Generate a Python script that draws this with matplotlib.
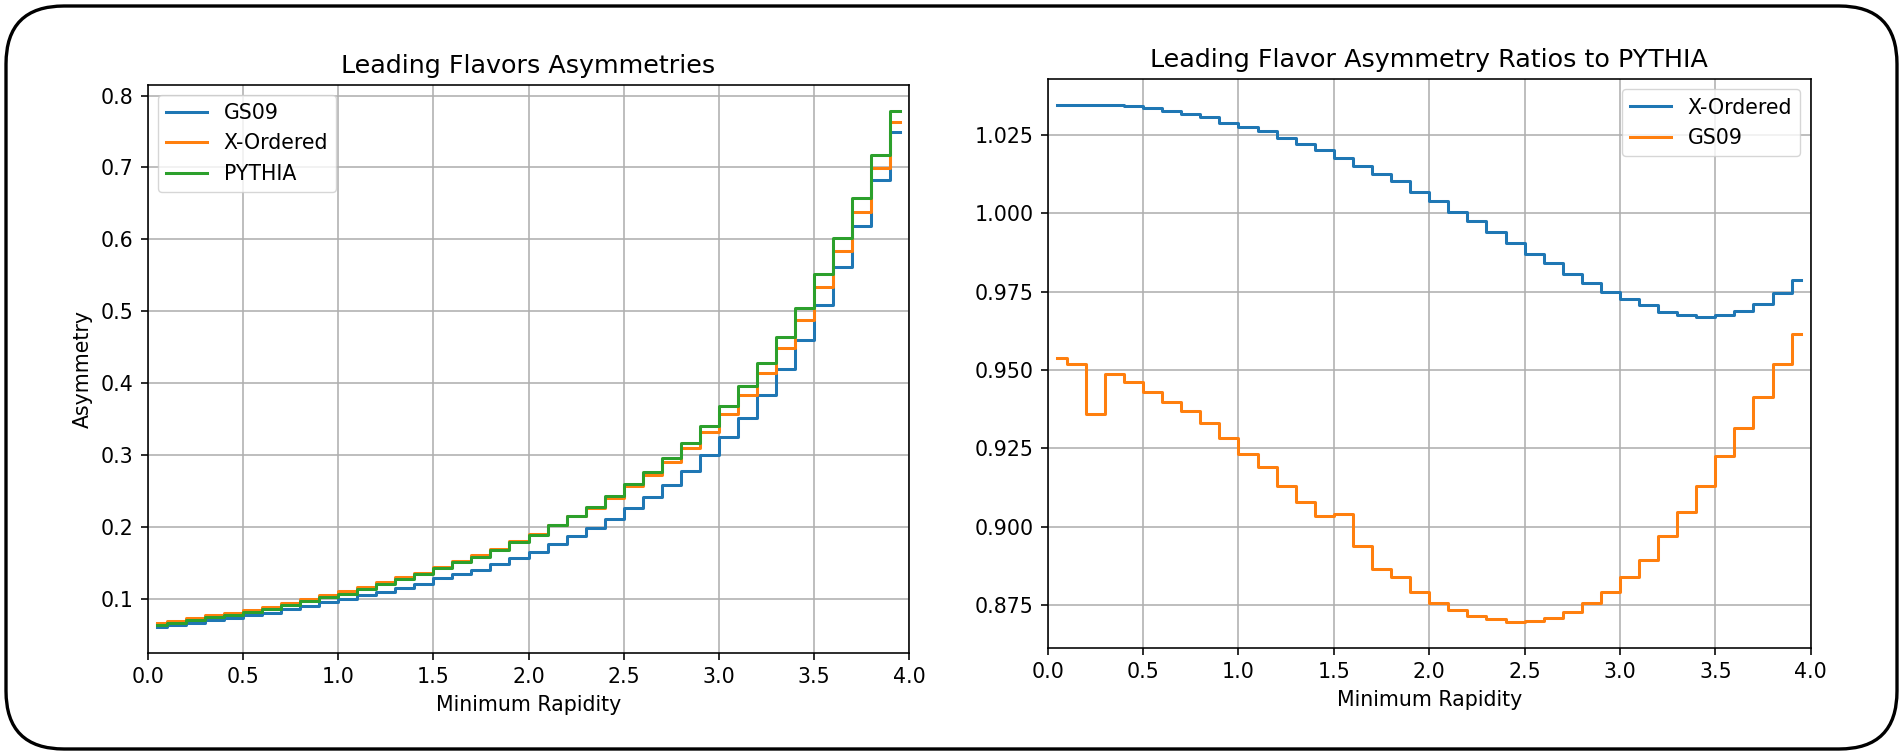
import numpy as np
import matplotlib
matplotlib.use("Agg")
import matplotlib.pyplot as plt
from matplotlib.patches import FancyBboxPatch
from matplotlib.transforms import IdentityTransform

# ---------------- data ----------------
rapidity = [0.05, 0.15, 0.25, 0.35, 0.45, 0.55, 0.65, 0.75, 0.85, 0.95,
            1.05, 1.15, 1.25, 1.35, 1.45, 1.55, 1.65, 1.75, 1.85, 1.95,
            2.05, 2.15, 2.25, 2.35, 2.45, 2.55, 2.65, 2.75, 2.85, 2.95,
            3.05, 3.15, 3.25, 3.35, 3.45, 3.55, 3.65, 3.75, 3.85, 3.95]

asym_gs09 = [0.0611, 0.0636, 0.0663, 0.0707, 0.0740, 0.0773, 0.0808, 0.0853, 0.0901, 0.0951,
             0.0992, 0.1048, 0.1101, 0.1153, 0.1210, 0.1287, 0.1347, 0.1408, 0.1485, 0.1571,
             0.1655, 0.1769, 0.1877, 0.1988, 0.2115, 0.2265, 0.2412, 0.2582, 0.2777, 0.2999,
             0.3252, 0.3519, 0.3839, 0.4198, 0.4603, 0.5086, 0.5610, 0.6192, 0.6831, 0.7491]

asym_xordered = [0.0663, 0.0691, 0.0732, 0.0771, 0.0809, 0.0848, 0.0888, 0.0939, 0.0994, 0.1054,
                 0.1104, 0.1170, 0.1235, 0.1298, 0.1367, 0.1449, 0.1530, 0.1608, 0.1697, 0.1799,
                 0.1897, 0.2026, 0.2149, 0.2270, 0.2409, 0.2569, 0.2725, 0.2901, 0.3101, 0.3325,
                 0.3578, 0.3841, 0.4145, 0.4489, 0.4875, 0.5334, 0.5835, 0.6386, 0.6993, 0.7626]

asym_pythia = [0.0641, 0.0668, 0.0708, 0.0745, 0.0782, 0.0820, 0.0860, 0.0910, 0.0965, 0.1025,
               0.1075, 0.1140, 0.1206, 0.1270, 0.1340, 0.1424, 0.1507, 0.1588, 0.1680, 0.1787,
               0.1890, 0.2025, 0.2154, 0.2284, 0.2432, 0.2603, 0.2769, 0.2958, 0.3171, 0.3411,
               0.3679, 0.3957, 0.4280, 0.4640, 0.5042, 0.5514, 0.6022, 0.6577, 0.7177, 0.7792]

ratio_xordered = [1.0345, 1.0345, 1.0345, 1.0345, 1.0340, 1.0335, 1.0324, 1.0316, 1.0305, 1.0287,
                  1.0273, 1.0263, 1.0239, 1.0219, 1.0200, 1.0175, 1.0150, 1.0125, 1.0101, 1.0067,
                  1.0037, 1.0004, 0.9975, 0.9939, 0.9904, 0.9870, 0.9841, 0.9807, 0.9778, 0.9748,
                  0.9725, 0.9706, 0.9685, 0.9674, 0.9669, 0.9674, 0.9689, 0.9709, 0.9744, 0.9787]

ratio_gs09 = [0.9537, 0.9518, 0.9360, 0.9487, 0.9463, 0.9429, 0.9399, 0.9370, 0.9332, 0.9282,
              0.9232, 0.9190, 0.9130, 0.9080, 0.9033, 0.9041, 0.8940, 0.8864, 0.8840, 0.8793,
              0.8758, 0.8734, 0.8714, 0.8705, 0.8695, 0.8700, 0.8709, 0.8729, 0.8758, 0.8793,
              0.8840, 0.8894, 0.8969, 0.9047, 0.9130, 0.9224, 0.9316, 0.9414, 0.9518, 0.9614]

# ---------------- style ----------------
S = 1.45   # line/tick scale
F = 1.48   # font scale
plt.rcParams.update({
    "font.family": ["DejaVu Sans"],
    "font.size": 10 * F,
    "axes.titlesize": 12 * 1.52,
    "lines.linewidth": 1.5 * S,
    "axes.linewidth": 0.8 * S,
    "grid.linewidth": 0.8 * S,
    "xtick.major.size": 3.5 * S,
    "ytick.major.size": 3.5 * S,
    "xtick.major.width": 0.8 * S,
    "ytick.major.width": 0.8 * S,
    "xtick.major.pad": 3.5 * S,
    "ytick.major.pad": 3.5 * S,
    "axes.titlepad": 6 * S,
    "axes.labelpad": 4 * S,
})

W, H = 1903, 754
fig = plt.figure(figsize=(W / 100, H / 100), dpi=100)

ax1 = fig.add_axes([147.7 / W, (H - 652.7) / H, 761.6 / W, 568.0 / H])
ax2 = fig.add_axes([1047.7 / W, (H - 648.3) / H, 763.0 / W, 569.3 / H])

ax1.step(rapidity, asym_gs09, where="mid", color="C0", label="GS09")
ax1.step(rapidity, asym_xordered, where="mid", color="C1", label="X-Ordered")
ax1.step(rapidity, asym_pythia, where="mid", color="C2", label="PYTHIA")
ax1.set_xlim(0, 4)
ax1.set_title("Leading Flavors Asymmetries")
ax1.set_xlabel("Minimum Rapidity")
ax1.set_ylabel("Asymmetry")
ax1.grid(True)
ax1.legend(loc="upper left")

ax2.step(rapidity, ratio_xordered, where="mid", color="C0", label="X-Ordered")
ax2.step(rapidity, ratio_gs09, where="mid", color="C1", label="GS09")
ax2.set_xlim(0, 4)
ax2.set_title("Leading Flavor Asymmetry Ratios to PYTHIA")
ax2.set_xlabel("Minimum Rapidity")
ax2.grid(True)
ax2.legend(loc="upper right")

# rounded screenshot frame
frame = FancyBboxPatch((6, 5), W - 12, H - 11,
                       boxstyle="round,pad=0,rounding_size=58",
                       transform=IdentityTransform(), fill=False,
                       edgecolor="black", linewidth=2.4)
fig.patches.append(frame)

fig.savefig("out.png", dpi=100)
